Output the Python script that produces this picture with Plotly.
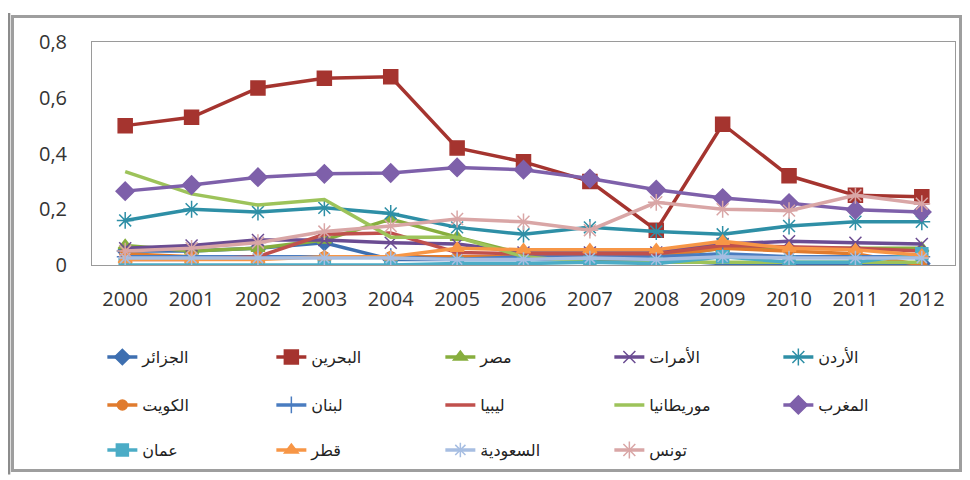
import plotly.graph_objects as go

years = ["2000","2001","2002","2003","2004","2005","2006","2007","2008","2009","2010","2011","2012"]

algeria    = [0.05, 0.05, 0.06, 0.08, 0.02, 0.02, 0.02, 0.02, 0.02, 0.005, 0.005, 0.005, 0.005]
bahrain    = [0.50, 0.53, 0.635, 0.67, 0.675, 0.42, 0.37, 0.30, 0.125, 0.505, 0.32, 0.25, 0.245]
egypt      = [0.07, 0.05, 0.06, 0.09, 0.165, 0.10, 0.04, 0.03, 0.03, 0.06, 0.06, 0.06, 0.06]
emirates   = [0.06, 0.07, 0.09, 0.09, 0.08, 0.075, 0.045, 0.045, 0.045, 0.075, 0.085, 0.08, 0.075]
jordan     = [0.16, 0.20, 0.19, 0.205, 0.185, 0.135, 0.11, 0.135, 0.12, 0.11, 0.14, 0.155, 0.155]
kuwait     = [0.04, 0.03, 0.03, 0.03, 0.03, 0.03, 0.03, 0.03, 0.03, 0.06, 0.05, 0.04, 0.0]
lebanon    = [0.03, 0.03, 0.03, 0.03, 0.03, 0.02, 0.03, 0.03, 0.03, 0.04, 0.03, 0.03, 0.03]
libya      = [0.02, 0.02, 0.03, 0.11, 0.115, 0.045, 0.04, 0.04, 0.04, 0.07, 0.065, 0.06, 0.05]
mauritania = [0.335, 0.255, 0.215, 0.235, 0.10, 0.10, 0.03, 0.01, 0.01, 0.01, 0.01, 0.01, 0.01]
morocco    = [0.265, 0.287, 0.315, 0.327, 0.33, 0.35, 0.342, 0.31, 0.27, 0.24, 0.222, 0.198, 0.19]
oman       = [0.0, 0.0, 0.0, 0.0, 0.0, 0.005, 0.005, 0.01, 0.005, 0.03, 0.01, 0.01, 0.04]
qatar      = [0.02, 0.02, 0.02, 0.03, 0.03, 0.06, 0.055, 0.055, 0.055, 0.085, 0.06, 0.055, 0.035]
saudi      = [0.025, 0.025, 0.025, 0.025, 0.025, 0.02, 0.02, 0.025, 0.02, 0.03, 0.025, 0.025, 0.025]
tunisia    = [0.05, 0.06, 0.08, 0.12, 0.14, 0.165, 0.155, 0.125, 0.225, 0.20, 0.195, 0.25, 0.22]

y_tickvals = [0, 0.2, 0.4, 0.6, 0.8]
y_ticktext = ["0", "0,2", "0,4", "0,6", "0,8"]

series = [
    ("الجزائر", algeria, "#3E6FB0", "diamond", 12, "legend"),
    ("البحرين", bahrain, "#A5342F", "square", 14, "legend"),
    ("مصر", egypt, "#87AE3E", "triangle-up", 12, "legend"),
    ("الأمرات", emirates, "#6B4C92", "x-thin-open", 12, "legend"),
    ("الأردن", jordan, "#2E8FA6", "asterisk-open", 14, "legend"),
    ("الكويت", kuwait, "#E07B2E", "circle", 10, "legend2"),
    ("لبنان", lebanon, "#4A7CC0", "cross-thin-open", 12, "legend2"),
    ("ليبيا", libya, "#C0504D", None, 0, "legend2"),
    ("موريطانيا", mauritania, "#9DC35A", None, 0, "legend2"),
    ("المغرب", morocco, "#7E60AA", "diamond", 14, "legend2"),
    ("عمان", oman, "#4BACC6", "square", 12, "legend3"),
    ("قطر", qatar, "#F79646", "triangle-up", 12, "legend3"),
    ("السعودية", saudi, "#A7BEE2", "asterisk-open", 12, "legend3"),
    ("تونس", tunisia, "#D9A6A6", "asterisk-open", 14, "legend3"),
]

fig = go.Figure()
for name, vals, color, sym, size, leg in series:
    if sym is None:
        mode = "lines"
        marker = None
    else:
        mode = "lines+markers"
        marker = dict(symbol=sym, size=size, color=color, line=dict(width=1.5, color=color))
    fig.add_trace(go.Scatter(
        x=years, y=vals, name=name, mode=mode,
        line=dict(color=color, width=3.5),
        marker=marker, legend=leg,
    ))

leg_common = dict(
    orientation="h", xref="paper", yref="paper", xanchor="left", yanchor="middle",
    entrywidth=124, entrywidthmode="pixels",
    font=dict(family="DejaVu Sans", size=16, color="#222222"),
    bgcolor="rgba(0,0,0,0)", borderwidth=0,
)

fig.update_layout(
    width=970, height=480,
    margin=dict(l=84, r=23, t=34, b=223),
    paper_bgcolor="white", plot_bgcolor="white",
    showlegend=True,
    legend=dict(x=0.012, y=-0.413, **leg_common),
    legend2=dict(x=0.012, y=-0.628, **leg_common),
    legend3=dict(x=0.012, y=-0.830, **leg_common),
    xaxis=dict(
        type="category", range=[-0.5, 12.5], showgrid=False, zeroline=False,
        showline=True, linecolor="#9A9A9A", linewidth=1, mirror=True,
        ticks="", tickfont=dict(family="Open Sans", size=20, color="#333333"),
        ticklabelstandoff=16,
    ),
    yaxis=dict(
        range=[0, 0.8], tickvals=y_tickvals, ticktext=y_ticktext,
        showgrid=False, zeroline=False,
        showline=True, linecolor="#9A9A9A", linewidth=1, mirror=True,
        ticks="", tickfont=dict(family="Open Sans", size=20, color="#333333"),
        ticklabelstandoff=20,
    ),
    annotations=[
        dict(text=" ", xref="paper", yref="paper", x=0.457, y=0.0964,
             xanchor="center", yanchor="middle", showarrow=False,
             width=945, height=451, borderpad=0, borderwidth=3,
             bordercolor="#9E9E9E", bgcolor="rgba(0,0,0,0)"),
    ],
    shapes=[
        dict(type="line", xref="paper", yref="paper",
             x0=-0.097, x1=-0.097, y0=-0.94, y1=1.13,
             line=dict(color="#8C8C8C", width=4)),
    ],
)

fig.write_html("out.html")
